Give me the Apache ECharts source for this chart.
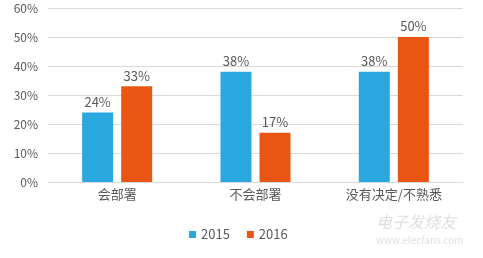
<!DOCTYPE html>
<html>
<head>
<meta charset="utf-8">
<script src="https://cdn.jsdelivr.net/npm/echarts@6/dist/echarts.min.js"></script>
<style>
  html, body { margin: 0; padding: 0; background: #fff; }
  #chart { width: 483px; height: 258px; }
</style>
</head>
<body>
<div id="chart"></div>
<script>
var categories = ['会部署', '不会部署', '没有决定/不熟悉'];
var values2015 = [24, 38, 38];
var values2016 = [33, 17, 50];
var yTicks = [0, 10, 20, 30, 40, 50, 60];

var font = '"Noto Sans CJK SC", "Open Sans", sans-serif';

var myChart = echarts.init(document.getElementById('chart'));
myChart.setOption({
  animation: false,
  textStyle: { fontFamily: font },
  grid: { left: 48, right: 20, top: 8, bottom: 76 },
  legend: {
    data: ['2015', '2016'],
    left: 184,
    top: 223,
    itemWidth: 7,
    itemHeight: 7,
    itemGap: 17,
    icon: 'rect',
    textStyle: { color: '#595959', fontSize: 13, fontFamily: font }
  },
  xAxis: {
    type: 'category',
    data: categories,
    axisLine: { lineStyle: { color: '#d9d9d9' } },
    axisTick: { show: false },
    axisLabel: { color: '#595959', fontSize: 13, margin: 6, fontFamily: font }
  },
  yAxis: {
    type: 'value',
    min: yTicks[0],
    max: yTicks[yTicks.length - 1],
    interval: 10,
    axisLine: { show: false },
    axisTick: { show: false },
    splitLine: { lineStyle: { color: '#d9d9d9' } },
    axisLabel: { color: '#595959', fontSize: 12, margin: 10, formatter: '{value}%' }
  },
  series: [
    {
      name: '2015',
      type: 'bar',
      data: values2015,
      barWidth: 31,
      barGap: '26%',
      itemStyle: { color: '#29a8e0' },
      label: { show: true, position: 'top', formatter: '{c}%', color: '#595959', fontSize: 13, distance: 4 }
    },
    {
      name: '2016',
      type: 'bar',
      data: values2016,
      barWidth: 31,
      itemStyle: { color: '#e95513' },
      label: { show: true, position: 'top', formatter: '{c}%', color: '#595959', fontSize: 13, distance: 4 }
    }
  ],
  graphic: [
    {
      type: 'text',
      left: 376,
      top: 214,
      style: { text: '电子发烧友', fill: '#e0e0e0', font: 'italic 16px ' + font }
    },
    {
      type: 'text',
      left: 376,
      top: 235,
      style: { text: 'www.elecfans.com', fill: '#e0e0e0', font: '10px ' + font }
    }
  ]
});
</script>
</body>
</html>
